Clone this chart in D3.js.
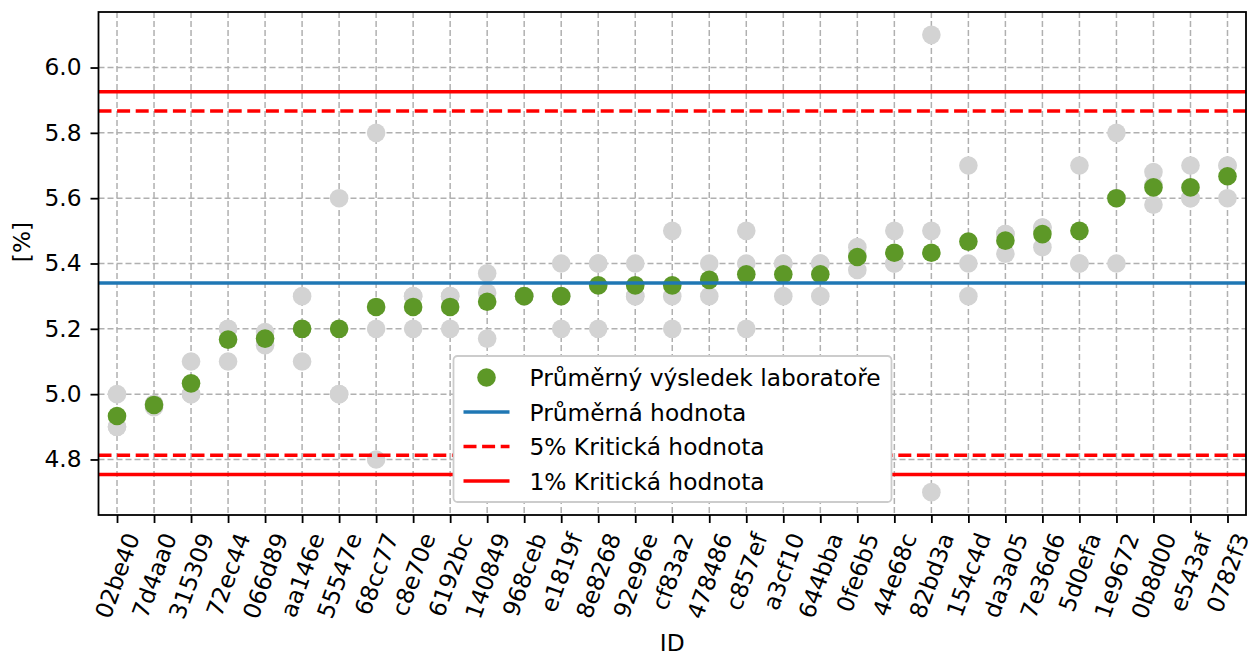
<!DOCTYPE html>
<html><head><meta charset="utf-8">
<script src="https://cdn.jsdelivr.net/npm/d3@7"></script>
<style>
html,body{margin:0;padding:0;background:#fff;}
svg{display:block;font-family:"DejaVu Sans",sans-serif;}
</style></head>
<body>
<svg id="chart" width="1248" height="657"></svg>
<script>
const ids = ["02be40","7d4aa0","315309","72ec44","066d89","aa146e","55547e","68cc77","c8e70e","6192bc","140849","968ceb","e1819f","8e8268","92e96e","cf83a2","478486","c857ef","a3cf10","644bba","0fe6b5","44e68c","82bd3a","154c4d","da3a05","7e36d6","5d0efa","1e9672","0b8d00","e543af","0782f3"];
const rep1 = [5.00,4.97,5.10,5.20,5.19,5.30,5.60,5.80,5.30,5.30,5.37,5.30,5.40,5.40,5.40,5.50,5.40,5.50,5.40,5.40,5.45,5.50,6.10,5.70,5.49,5.51,5.70,5.80,5.68,5.70,5.70];
const rep2 = [4.90,4.96,5.00,5.20,5.17,5.20,5.00,5.20,5.30,5.30,5.31,5.30,5.30,5.40,5.30,5.30,5.35,5.40,5.40,5.40,5.43,5.40,5.50,5.40,5.49,5.51,5.40,5.60,5.64,5.60,5.70];
const rep3 = [4.90,4.97,5.00,5.10,5.15,5.10,5.00,4.80,5.20,5.20,5.17,5.30,5.20,5.20,5.30,5.20,5.30,5.20,5.30,5.30,5.38,5.40,4.70,5.30,5.43,5.45,5.40,5.40,5.58,5.60,5.60];
const labMeans = [4.933,4.967,5.033,5.167,5.170,5.200,5.200,5.267,5.267,5.267,5.283,5.300,5.300,5.333,5.333,5.333,5.350,5.367,5.367,5.367,5.420,5.433,5.433,5.467,5.470,5.490,5.500,5.600,5.633,5.633,5.667];
const overallMean = 5.340;
const crit5 = [4.813, 5.867];
const crit1 = [4.754, 5.926];
const yTicks = [4.8,5.0,5.2,5.4,5.6,5.8,6.0];
const legendLabels = ["Průměrný výsledek laboratoře","Průměrná hodnota","5% Kritická hodnota","1% Kritická hodnota"];

const W = 1248, H = 657;
const L = 98.5, R = 1246, T = 12, B = 515;
const FS = 23.3;
const green = "#5d9827", gray = "#d3d3d3", blue = "#1f77b4", red = "#ff0000";

const svg = d3.select("#chart");
const x = d3.scalePoint().domain(ids).range([L, R]).padding(0.5);
const y = d3.scaleLinear().domain([4.63, 6.17]).range([B, T]);

// grid
const grid = svg.append("g");
grid.selectAll("line.v").data(ids).join("line")
  .attr("x1", d => x(d)).attr("x2", d => x(d)).attr("y1", T).attr("y2", B)
  .attr("stroke", "#b0b0b0").attr("stroke-width", 1.5).attr("stroke-dasharray", "6,3");
grid.selectAll("line.h").data(yTicks).join("line")
  .attr("x1", L).attr("x2", R).attr("y1", d => y(d)).attr("y2", d => y(d))
  .attr("stroke", "#b0b0b0").attr("stroke-width", 1.5).attr("stroke-dasharray", "6,3");

// replicate points
svg.append("clipPath").attr("id","pc").append("rect").attr("x",L).attr("y",T).attr("width",R-L).attr("height",B-T);
const pts = svg.append("g").attr("clip-path","url(#pc)");
[rep1, rep2, rep3].forEach(rep => {
  pts.selectAll(null).data(ids).join("circle")
    .attr("cx", d => x(d)).attr("cy", (d,i) => y(rep[i])).attr("r", 9.3).attr("fill", gray);
});
pts.selectAll(null).data(ids).join("circle")
  .attr("cx", d => x(d)).attr("cy", (d,i) => y(labMeans[i])).attr("r", 9.3).attr("fill", green);

// reference lines
const lines = svg.append("g");
function hline(v, color, dash){
  const l = lines.append("line").attr("x1", L).attr("x2", R).attr("y1", y(v)).attr("y2", y(v))
    .attr("stroke", color).attr("stroke-width", 3.5);
  if (dash) l.attr("stroke-dasharray", dash);
}
hline(overallMean, blue);
crit5.forEach(v => hline(v, red, "13,5.6"));
crit1.forEach(v => hline(v, red));

// frame
svg.append("rect").attr("x", L).attr("y", T).attr("width", R-L).attr("height", B-T)
  .attr("fill","none").attr("stroke","#000").attr("stroke-width",1.8);

// y axis
const yAxis = d3.axisLeft(y).tickValues(yTicks).tickFormat(d3.format(".1f")).tickSize(8).tickPadding(9);
const ya = svg.append("g").attr("transform", `translate(${L},0)`).call(yAxis);
ya.select(".domain").remove();
ya.selectAll("line").attr("stroke","#000").attr("stroke-width",1.8);
ya.selectAll("text").attr("font-size", FS).attr("font-family","DejaVu Sans").attr("fill","#000");

// x axis
const xAxis = d3.axisBottom(x).tickSize(8).tickFormat("");
const xa = svg.append("g").attr("transform", `translate(0,${B})`).call(xAxis);
xa.select(".domain").remove();
xa.selectAll("line").attr("stroke","#000").attr("stroke-width",1.8);

const labTop = B + 15;
const ang = 70 * Math.PI / 180;
const xl = svg.append("g");
ids.forEach(id => {
  const t = xl.append("text").text(id).attr("font-size", FS).attr("text-anchor","middle")
    .attr("dominant-baseline","central").attr("fill","#000");
  const w = t.node().getComputedTextLength();
  const h = FS * 1.0;
  const half = (w * Math.sin(ang) + h * Math.cos(ang)) / 2;
  t.attr("transform", `translate(${x(id)},${labTop + half}) rotate(-70)`);
});

// axis labels
svg.append("text").text("ID").attr("x", (L+R)/2).attr("y", 651).attr("text-anchor","middle")
  .attr("font-size", FS).attr("fill","#000");
svg.append("text").text("[%]").attr("transform","translate(21,242) rotate(-90)").attr("text-anchor","middle")
  .attr("dominant-baseline","central").attr("font-size", FS).attr("fill","#000");

// legend
const lg = svg.append("g");
lg.append("rect").attr("x", 453.5).attr("y", 356).attr("width", 438).attr("height", 146)
  .attr("rx", 4).attr("fill","#fff").attr("stroke","#cccccc").attr("stroke-width",1.8);
const rowY = [377.5, 412, 446.5, 481];
lg.append("circle").attr("cx", 486.5).attr("cy", rowY[0]).attr("r", 9.3).attr("fill", green);
lg.append("line").attr("x1",463.5).attr("x2",509.5).attr("y1",rowY[1]).attr("y2",rowY[1]).attr("stroke",blue).attr("stroke-width",3.5);
lg.append("line").attr("x1",463.5).attr("x2",509.5).attr("y1",rowY[2]).attr("y2",rowY[2]).attr("stroke",red).attr("stroke-width",3.5).attr("stroke-dasharray","13,5.6");
lg.append("line").attr("x1",463.5).attr("x2",509.5).attr("y1",rowY[3]).attr("y2",rowY[3]).attr("stroke",red).attr("stroke-width",3.5);
legendLabels.forEach((s,i) => {
  lg.append("text").text(s).attr("x", 529.5).attr("y", rowY[i]).attr("dominant-baseline","central")
    .attr("font-size", FS).attr("fill","#000");
});
</script>
</body></html>
